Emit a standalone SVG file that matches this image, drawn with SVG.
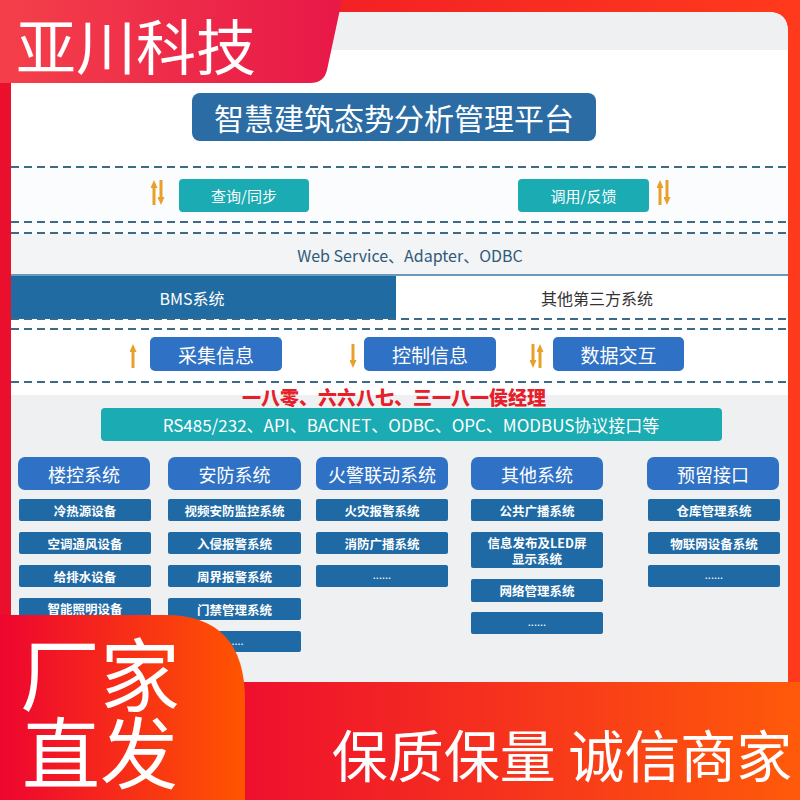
<svg xmlns="http://www.w3.org/2000/svg" width="800" height="800" viewBox="0 0 800 800">
<defs>
<linearGradient id="gFrame" x1="0" y1="0" x2="1" y2="0"><stop offset="0" stop-color="#ea0f2c"/><stop offset="1" stop-color="#ff3a1c"/></linearGradient>
<linearGradient id="gLogo" x1="0" y1="0" x2="1" y2="0"><stop offset="0" stop-color="#f4404a"/><stop offset="1" stop-color="#e81848"/></linearGradient>
<linearGradient id="gBand" x1="0" y1="0" x2="1" y2="0"><stop offset="0" stop-color="#ee0f2e"/><stop offset="1" stop-color="#ff5a0a"/></linearGradient>
<linearGradient id="gCorner" x1="0" y1="0" x2="1" y2="0"><stop offset="0" stop-color="#ee0530"/><stop offset="1" stop-color="#ff5500"/></linearGradient>
<marker id="tip" viewBox="0 0 8 7" refX="1" refY="3.5" markerWidth="8" markerHeight="7" markerUnits="userSpaceOnUse" orient="auto"><path d="M0,0 L8,3.5 L0,7 Z" fill="#e8a02a"/></marker>
<style>
text{font-family:"Noto Sans CJK SC","Noto Sans",sans-serif;text-anchor:middle;dominant-baseline:central}
.dash{stroke:#3d6a86;stroke-width:2;stroke-dasharray:8 5;fill:none}
.arr{stroke:#e8a02a;stroke-width:3;marker-end:url(#tip)}
.teal{fill:#1aabb3}
.mid{fill:#2f71c4}
.sub{fill:#1f6aa5}
.hd{font-size:18px;fill:#fff}
.st{font-size:12.5px;font-weight:700;fill:#fff}
.dots{font-size:11px;fill:#fff}
</style>
</defs>
<rect x="0" y="0" width="800" height="800" fill="url(#gFrame)"/>
<path d="M11,12 H768 Q788,12 788,32 V682 H11 Z" fill="#ffffff"/>
<path d="M11,12 H768 Q788,12 788,32 V50 H11 Z" fill="#eff0f2"/>
<rect x="11" y="167" width="777" height="67" fill="#fafcfd"/>
<rect x="11" y="234" width="777" height="41" fill="#f3f4f6"/>
<rect x="11" y="395" width="777" height="287" fill="#eff0f2"/>
<line x1="11" y1="275" x2="788" y2="275" stroke="#3a78a6" stroke-width="1.5"/>
<g id="bms"><rect x="11" y="276" width="385" height="43" fill="#216ba3"/><text x="192" y="298" font-size="16" fill="#fff">BMS系统</text></g>
<g id="third"><text x="597" y="298" font-size="16" fill="#333">其他第三方系统</text></g>
<g id="webservice"><text x="410" y="255" font-size="16" fill="#2f5a78">Web Service、Adapter、ODBC</text></g>
<g id="dashes">
<line class="dash" x1="11" y1="167" x2="788" y2="167"/>
<line class="dash" x1="11" y1="222" x2="788" y2="222"/>
<line class="dash" x1="11" y1="233" x2="788" y2="233"/>
<line class="dash" x1="11" y1="319" x2="788" y2="319"/>
<line class="dash" x1="11" y1="329" x2="788" y2="329"/>
<line class="dash" x1="11" y1="382" x2="788" y2="382"/>
</g>
<g id="title"><rect x="192" y="93" width="404" height="48" rx="8" fill="#2a6ca3"/><text x="394" y="117" font-size="30" fill="#fff">智慧建筑态势分析管理平台</text></g>
<g id="query"><rect x="179" y="179" width="130" height="33" rx="4" class="teal"/><text x="244" y="195.5" font-size="15" fill="#fff">查询/同步</text></g>
<g id="call"><rect x="518" y="179" width="131" height="33" rx="4" class="teal"/><text x="583.5" y="195.5" font-size="15" fill="#fff">调用/反馈</text></g>
<g id="collect"><rect x="150" y="337" width="132" height="34" rx="5" class="mid"/><text x="216" y="354" font-size="19" fill="#fff">采集信息</text></g>
<g id="control"><rect x="364" y="337" width="132" height="34" rx="5" class="mid"/><text x="430" y="354" font-size="19" fill="#fff">控制信息</text></g>
<g id="exchange"><rect x="553" y="337" width="131" height="34" rx="5" class="mid"/><text x="618.5" y="354" font-size="19" fill="#fff">数据交互</text></g>
<g id="connectors">
<line class="arr" x1="154" y1="205" x2="154" y2="187"/>
<line class="arr" x1="161" y1="180" x2="161" y2="198"/>
<line class="arr" x1="660" y1="205" x2="660" y2="187"/>
<line class="arr" x1="667" y1="180" x2="667" y2="198"/>
<line class="arr" x1="133" y1="368" x2="133" y2="351"/>
<line class="arr" x1="353" y1="344" x2="353" y2="361"/>
<line class="arr" x1="533" y1="344" x2="533" y2="361"/>
<line class="arr" x1="540" y1="368" x2="540" y2="351"/>
</g>
<g id="contact"><text x="394" y="396" font-size="19" font-weight="900" fill="#e5202a">一八零、六六八七、三一八一侯经理</text></g>
<g id="protocols"><rect x="101" y="408" width="621" height="33" rx="4" class="teal"/><text x="411" y="424.5" font-size="17" fill="#fff">RS485/232、API、BACNET、ODBC、OPC、MODBUS协议接口等</text></g>
<g id="col1">
<rect x="18" y="457" width="132" height="33" rx="7" class="mid"/><text class="hd" x="84" y="473.5">楼控系统</text>
<rect x="19" y="499" width="132" height="22" rx="2" class="sub"/><text class="st" x="85" y="510">冷热源设备</text>
<rect x="19" y="532" width="132" height="22" rx="2" class="sub"/><text class="st" x="85" y="543">空调通风设备</text>
<rect x="19" y="565" width="132" height="22" rx="2" class="sub"/><text class="st" x="85" y="576">给排水设备</text>
<rect x="19" y="598" width="132" height="22" rx="2" class="sub"/><text class="st" x="85" y="608">智能照明设备</text>
</g>
<g id="col2">
<rect x="168" y="457" width="133" height="33" rx="7" class="mid"/><text class="hd" x="234.5" y="473.5">安防系统</text>
<rect x="168" y="499" width="133" height="22" rx="2" class="sub"/><text class="st" x="234.5" y="510">视频安防监控系统</text>
<rect x="168" y="532" width="133" height="22" rx="2" class="sub"/><text class="st" x="234.5" y="543">入侵报警系统</text>
<rect x="168" y="565" width="133" height="22" rx="2" class="sub"/><text class="st" x="234.5" y="576">周界报警系统</text>
<rect x="168" y="598" width="133" height="22" rx="2" class="sub"/><text class="st" x="234.5" y="609">门禁管理系统</text>
<rect x="168" y="631" width="133" height="21" rx="2" class="sub"/><text class="dots" x="234.5" y="640">......</text>
</g>
<g id="col3">
<rect x="316" y="457" width="132" height="33" rx="7" class="mid"/><text class="hd" x="382" y="473.5">火警联动系统</text>
<rect x="316" y="499" width="132" height="22" rx="2" class="sub"/><text class="st" x="382" y="510">火灾报警系统</text>
<rect x="316" y="532" width="132" height="22" rx="2" class="sub"/><text class="st" x="382" y="543">消防广播系统</text>
<rect x="316" y="565" width="132" height="22" rx="2" class="sub"/><text class="dots" x="382" y="574">......</text>
</g>
<g id="col4">
<rect x="471" y="457" width="132" height="33" rx="7" class="mid"/><text class="hd" x="537" y="473.5">其他系统</text>
<rect x="471" y="499" width="132" height="22" rx="2" class="sub"/><text class="st" x="537" y="510">公共广播系统</text>
<rect x="471" y="532" width="132" height="36" rx="2" class="sub"/><text class="st" x="537" y="542" font-size="12">信息发布及LED屏</text><text class="st" x="537" y="558" font-size="12">显示系统</text>
<rect x="471" y="579" width="132" height="23" rx="2" class="sub"/><text class="st" x="537" y="590">网络管理系统</text>
<rect x="471" y="612" width="132" height="22" rx="2" class="sub"/><text class="dots" x="537" y="621">......</text>
</g>
<g id="col5">
<rect x="647" y="457" width="132" height="33" rx="7" class="mid"/><text class="hd" x="713" y="473.5">预留接口</text>
<rect x="648" y="499" width="132" height="22" rx="2" class="sub"/><text class="st" x="714" y="510">仓库管理系统</text>
<rect x="648" y="532" width="132" height="22" rx="2" class="sub"/><text class="st" x="714" y="543">物联网设备系统</text>
<rect x="648" y="565" width="132" height="22" rx="2" class="sub"/><text class="dots" x="714" y="574">......</text>
</g>
<g id="logo"><path d="M0,0 H342 L327,70 Q324,83 310,83 H0 Z" fill="url(#gLogo)"/><text x="136" y="43" font-size="60" fill="#fff">亚川科技</text></g>
<g id="bottomband"><rect x="240" y="682" width="560" height="118" fill="url(#gBand)"/><text x="562" y="752" font-size="56" fill="#fff">保质保量 诚信商家</text></g>
<g id="corner"><path d="M0,615 H165 Q245,615 245,700 V800 H0 Z" fill="url(#gCorner)"/><text x="100" y="670" font-size="80" fill="#fff">厂家</text><text x="100" y="749" font-size="78" fill="#fff">直发</text></g>
</svg>
